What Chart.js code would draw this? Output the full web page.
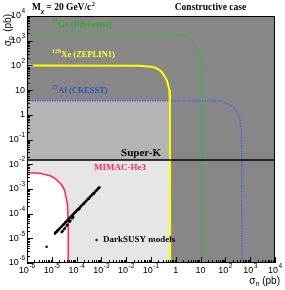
<!DOCTYPE html>
<html><head><meta charset="utf-8">
<script src="https://cdn.jsdelivr.net/npm/chart.js@4/dist/chart.umd.min.js"></script>
<style>html,body{margin:0;padding:0;background:#fff;overflow:hidden}</style>
</head><body>
<canvas id="c" width="285" height="290"></canvas>
<script>
// ---- axis ticks ----
const tickValues = [1e-6,1e-5,1e-4,1e-3,1e-2,1e-1,1,10,100,1000,10000];
const xTickLabels = ['10^-6','10^-5','10^-4','10^-3','10^-2','10^-1','1','10','10^2','10^3','10^4'];
const yTickLabels = ['10^-6','10^-5','10^-4','10^-3','10^-2','10^-1','1','10','10^2','10^3','10^4'];

// ---- exclusion curves (sigma_n, sigma_p) in pb ----
const geN = [1e-6, 0.58, 1.48, 2.6, 3.7, 5.4, 7.0, 8.4, 9.5, 10.6, 11.4, 11.9, 12.0];
const geP = [1700, 1700, 1660, 1410, 1070, 770, 570, 380, 225, 104, 26, 1.6, 1e-6];

const xeN = [1e-6, 0.036, 0.12, 0.19, 0.27, 0.35, 0.43, 0.49, 0.55, 0.58, 0.595];
const xeP = [98, 97, 86, 72, 54, 37, 25.6, 16, 10, 2.5, 1e-6];

const alN = [1e-6, 24, 60, 106, 153, 222, 286, 344, 388, 426, 446, 467];
const alP = [3.7, 3.7, 3.6, 3.0, 2.5, 1.83, 1.34, 0.94, 0.62, 0.29, 0.095, 1e-6];

const mimacN = [1e-6, 3.3e-6, 8.5e-6, 1.17e-5, 1.58e-5, 2.0e-5, 2.5e-5, 2.96e-5, 3.4e-5, 4.3e-5, 4.62e-5, 4.62e-5];
const mimacP = [4.5e-3, 4.3e-3, 3.4e-3, 2.9e-3, 2.3e-3, 1.85e-3, 1.44e-3, 1.09e-3, 7.7e-4, 2.2e-4, 3.5e-5, 1e-6];

const superKN = [1e-6, 1e4];
const superKP = [0.0148, 0.0148];

// shaded regions (edges)
const allowedDDN = [1e-6, 0.575, 0.58, 0.595];
const allowedDDP = [3.7, 3.7, 2.5, 1e-6];
const allowedSKN = [1e-6, 0.59, 0.595];
const allowedSKP = [0.0148, 0.0148, 1e-6];

// ---- DarkSUSY models ----
const susyN = [1.35e-5,1.41e-5,1.58e-5,1.66e-5,1.82e-5,2.00e-5,2.19e-5,2.40e-5,2.63e-5,2.82e-5,3.09e-5,3.39e-5,3.63e-5,3.98e-5,4.37e-5,4.79e-5,5.25e-5,5.75e-5,6.31e-5,6.92e-5,7.59e-5,8.32e-5,9.12e-5,1.00e-4,1.10e-4,1.20e-4,1.32e-4,1.45e-4,1.58e-4,1.74e-4,1.91e-4,2.09e-4,2.29e-4,2.51e-4,2.75e-4,3.02e-4,3.31e-4,3.63e-4,3.98e-4,4.37e-4,4.79e-4,5.25e-4,5.75e-4,6.31e-4,6.92e-4,7.59e-4,8.32e-4,
  2.51e-5,2.69e-5,3.16e-5,3.39e-5,3.98e-5,4.27e-5,5.25e-5,5.62e-5,6.76e-5,7.24e-5, 6.17e-6,
  1.26e-4,2.00e-4,3.16e-4,5.01e-4];
const susyP = [1.55e-5,1.74e-5,1.82e-5,2.04e-5,2.14e-5,2.45e-5,2.63e-5,2.95e-5,3.16e-5,3.55e-5,3.72e-5,4.27e-5,4.47e-5,5.01e-5,5.37e-5,6.17e-5,6.61e-5,7.41e-5,7.94e-5,8.91e-5,9.55e-5,1.10e-4,1.17e-4,1.32e-4,1.41e-4,1.58e-4,1.70e-4,1.91e-4,2.09e-4,2.34e-4,2.51e-4,2.82e-4,3.02e-4,3.39e-4,3.72e-4,4.17e-4,4.47e-4,5.01e-4,5.37e-4,6.03e-4,6.61e-4,7.08e-4,7.94e-4,8.71e-4,9.55e-4,1.07e-3,1.15e-3,
  1.78e-5,1.95e-5,2.34e-5,2.63e-5,3.24e-5,3.55e-5,4.68e-5,5.13e-5,6.46e-5,7.24e-5, 4.57e-6,
  1.51e-4,2.45e-4,3.98e-4,6.46e-4];

const xy = (xs, ys) => xs.map((x, i) => ({x: x, y: ys[i]}));

const SERIF = '"Liberation Serif", "Times New Roman", serif';
const SANS = '"Liberation Sans", Arial, sans-serif';

function drawPow(ctx, label, x, y, align, bs, ss) {
  const parts = label.split('^');
  const base = parts[0], sup = parts[1];
  ctx.font = bs + 'px ' + SANS;
  const wb = ctx.measureText(base).width;
  let ws = 0;
  if (sup) { ctx.font = ss + 'px ' + SANS; ws = ctx.measureText(sup).width + 0.5; }
  const tot = wb + ws;
  const x0 = align === 'center' ? x - tot / 2 : (align === 'right' ? x - tot : x);
  ctx.textAlign = 'left'; ctx.textBaseline = 'middle';
  ctx.font = bs + 'px ' + SANS; ctx.fillText(base, x0, y);
  if (sup) { ctx.font = ss + 'px ' + SANS; ctx.fillText(sup, x0 + wb + 0.5, y - 4.5); }
}
function drawIso(ctx, mass, name, x, y, color) {
  ctx.fillStyle = color; ctx.textAlign = 'left'; ctx.textBaseline = 'middle';
  ctx.font = 'bold 6px ' + SERIF; ctx.fillText(mass, x, y - 3.5);
  const w = ctx.measureText(mass).width;
  ctx.font = 'bold 8.5px ' + SERIF; ctx.fillText(name, x + w + 0.3, y);
}

const bgPlugin = {
  id: 'bg',
  beforeDraw(chart) {
    const {ctx, chartArea: a} = chart;
    ctx.save(); ctx.fillStyle = '#878787';
    ctx.fillRect(a.left, a.top, a.right - a.left, a.bottom - a.top);
    ctx.restore();
  }
};

const decoPlugin = {
  id: 'deco',
  afterDraw(chart) {
    const {ctx, chartArea: a} = chart;
    const xs = chart.scales.x, ys = chart.scales.y;
    ctx.save();
    // frame
    ctx.strokeStyle = '#000'; ctx.lineWidth = 1;
    ctx.strokeRect(a.left + 0.5, a.top + 0.5, a.right - a.left - 1, a.bottom - a.top - 1);
    // ticks (inward)
    ctx.beginPath();
    for (let d = -6; d <= 4; d++) {
      const v = Math.pow(10, d);
      const px = Math.round(xs.getPixelForValue(v)) + 0.5;
      ctx.moveTo(px, a.bottom); ctx.lineTo(px, a.bottom - 6);
      const py = Math.round(ys.getPixelForValue(v)) + 0.5;
      ctx.moveTo(a.left, py); ctx.lineTo(a.left + 6, py);
      if (d < 4) {
        for (let m = 2; m <= 9; m++) {
          const mx = Math.round(xs.getPixelForValue(m * v)) + 0.5;
          ctx.moveTo(mx, a.bottom); ctx.lineTo(mx, a.bottom - 3);
          const my = Math.round(ys.getPixelForValue(m * v)) + 0.5;
          ctx.moveTo(a.left, my); ctx.lineTo(a.left + 3, my);
        }
      }
    }
    ctx.stroke();
    // tick labels
    ctx.fillStyle = '#000';
    tickValues.forEach((v, i) => {
      drawPow(ctx, xTickLabels[i], xs.getPixelForValue(v), a.bottom + 8, 'center', 9, 6.5);
      drawPow(ctx, yTickLabels[i], a.left - 2, ys.getPixelForValue(v), 'right', 9, 6.5);
    });
    // axis titles
    ctx.font = '10px ' + SANS; ctx.textBaseline = 'middle'; ctx.textAlign = 'left';
    const wpb = ctx.measureText(' (pb)').width;
    const wsig = ctx.measureText('σ').width;
    ctx.font = '7px ' + SANS;
    const wsub = ctx.measureText('n').width;
    let x0 = 280 - wpb - wsub - wsig;
    ctx.font = '10px ' + SANS; ctx.fillText('σ', x0, 281);
    ctx.font = '7px ' + SANS; ctx.fillText('n', x0 + wsig, 284);
    ctx.font = '10px ' + SANS; ctx.fillText(' (pb)', x0 + wsig + wsub, 281);
    ctx.save();
    ctx.translate(8, 14); ctx.rotate(-Math.PI / 2);
    const wsp = ctx.measureText('p').width;
    x0 = -wpb - wsp - wsig;
    ctx.font = '10px ' + SANS; ctx.fillText('σ', x0, 0);
    ctx.font = '7px ' + SANS; ctx.fillText('p', x0 + wsig, 3);
    ctx.font = '10px ' + SANS; ctx.fillText(' (pb)', x0 + wsig + wsp, 0);
    ctx.restore();
    // title texts
    ctx.fillStyle = '#000'; ctx.textAlign = 'left'; ctx.textBaseline = 'middle';
    ctx.font = 'bold 9.5px ' + SERIF; ctx.fillText('M', 32, 8);
    let w = ctx.measureText('M').width;
    ctx.font = 'bold 6.5px ' + SERIF; ctx.fillText('χ', 32 + w, 11);
    w += ctx.measureText('χ').width;
    ctx.font = 'bold 9.5px ' + SERIF; ctx.fillText(' = 20 GeV/c', 32 + w, 8);
    w += ctx.measureText(' = 20 GeV/c').width;
    ctx.font = 'bold 6.5px ' + SERIF; ctx.fillText('2', 32 + w + 0.5, 4.5);
    ctx.font = 'bold 9.5px ' + SERIF; ctx.textAlign = 'center';
    ctx.fillText('Constructive case', 210.5, 8);
    // curve labels
    drawIso(ctx, '73', 'Ge (Edelweiss)', 52, 25, '#22b422');
    drawIso(ctx, '129', 'Xe (ZEPLIN1)', 52, 55, '#ffff30');
    drawIso(ctx, '27', 'Al (CRESST)', 52, 91, '#3550c8');
    ctx.fillStyle = '#000'; ctx.textAlign = 'right'; ctx.font = 'bold 11px ' + SERIF;
    ctx.fillText('Super-K', 161, 153);
    ctx.fillStyle = '#ff2a55'; ctx.textAlign = 'left'; ctx.font = 'bold 9px ' + SERIF;
    ctx.fillText('MIMAC-He3', 94, 168);
    ctx.fillStyle = '#000';
    ctx.beginPath(); ctx.arc(96.5, 240, 1.2, 0, Math.PI * 2); ctx.fill();
    ctx.font = 'bold 9px ' + SERIF; ctx.fillText('DarkSUSY models', 103, 239.5);
    ctx.restore();
  }
};

const lineDs = (label, xs, ys, color, width, dash, order) => ({
  label, data: xy(xs, ys), borderColor: color, borderWidth: width, borderDash: dash,
  pointRadius: 0, tension: 0, fill: false, order
});
const fillDs = (label, xs, ys, color, order) => ({
  label, data: xy(xs, ys), borderWidth: 0, borderColor: 'rgba(0,0,0,0)', backgroundColor: color,
  pointRadius: 0, tension: 0, fill: 'start', order
});

new Chart(document.getElementById('c'), {
  type: 'line',
  data: {
    datasets: [
      fillDs('DD allowed', allowedDDN, allowedDDP, '#b4b4b4', 20),
      fillDs('Super-K allowed', allowedSKN, allowedSKP, '#e6e6e6', 19),
      Object.assign(lineDs('MIMAC-He3', mimacN, mimacP, '#ff2a55', 1.6, [], 18), {fill: 'start', backgroundColor: '#ffffff'}),
      lineDs('73Ge (Edelweiss)', geN, geP, '#1fc81f', 1.5, [2.5, 1.5], 10),
      lineDs('27Al (CRESST)', alN, alP, '#4a6ae0', 1.5, [1.5, 1], 9),
      lineDs('129Xe (ZEPLIN1)', xeN, xeP, '#ffff00', 2, [], 8),
      lineDs('Super-K', superKN, superKP, '#000000', 1.4, [], 7),
      { label: 'DarkSUSY models', data: xy(susyN, susyP), showLine: false, pointRadius: 1.3,
        pointBorderWidth: 0, pointBackgroundColor: '#000', borderColor: '#000', backgroundColor: '#000', order: 1 }
    ]
  },
  options: {
    responsive: false, animation: false, devicePixelRatio: 1, events: [],
    layout: { padding: { left: 27, top: 16, right: 10, bottom: 27 } },
    scales: {
      x: { type: 'logarithmic', min: 1e-6, max: 1e4, display: false },
      y: { type: 'logarithmic', min: 1e-6, max: 1e4, display: false }
    },
    plugins: { legend: { display: false }, tooltip: { enabled: false }, filler: { drawTime: 'beforeDatasetDraw' } }
  },
  plugins: [bgPlugin, decoPlugin]
});
</script>
</body></html>
